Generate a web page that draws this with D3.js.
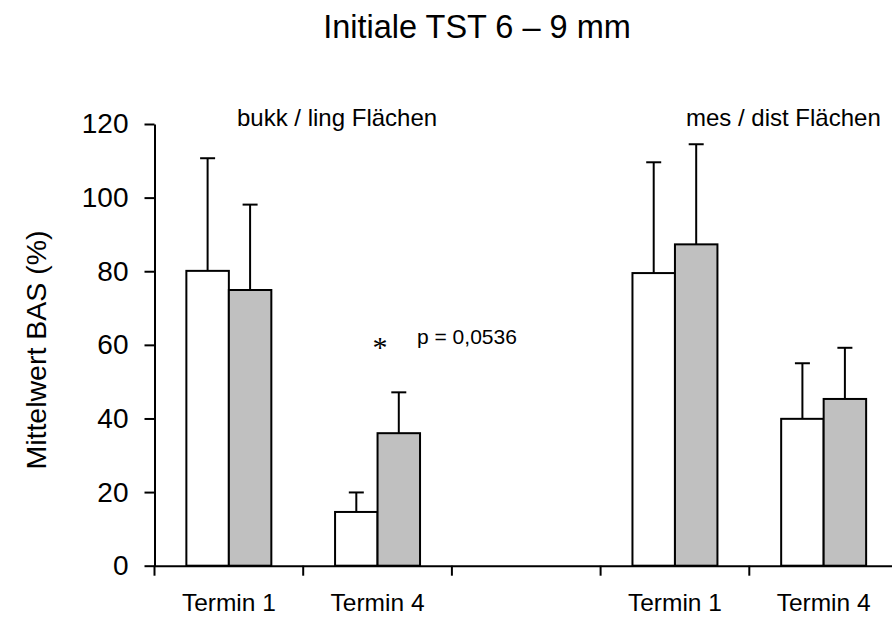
<!DOCTYPE html>
<html>
<head>
<meta charset="utf-8">
<script src="https://cdn.jsdelivr.net/npm/d3@7"></script>
<style>
    body { margin: 0; background: #fff; }
    text { font-family: "Liberation Sans", Arial, sans-serif; fill: #000; }
</style>
</head>
<body>
<div id="chart"></div>
<script>
// chart data
const slots = ["bukkT1", "bukkT4", "gap", "mesT1", "mesT4"];
const slotLabels = ["Termin 1", "Termin 4", "", "Termin 1", "Termin 4"];
const series = ["weiss", "grau"];
const whiteMeans = [80.1, 14.6, null, 79.5, 39.9];
const whiteErr = [30.6, 5.3, null, 30.1, 15.1];
const grayMeans = [74.9, 36.0, null, 87.3, 45.3];
const grayErr = [23.2, 11.1, null, 27.2, 13.9];
const yTicks = [0, 20, 40, 60, 80, 100, 120];

const width = 892, height = 619;
const svg = d3.select('#chart')
    .append('svg')
    .attr('width', width)
    .attr('height', height);

const x = d3.scaleBand()
    .domain(slots)
    .range([154.5, 898])
    .padding(0);

const xInner = d3.scaleBand()
    .domain(series)
    .range([0, x.bandwidth()])
    .paddingInner(0)
    .paddingOuter(0.75);

const y = d3.scaleLinear()
    .domain([0, 120])
    .range([565.7, 124]);

const fills = { weiss: "#ffffff", grau: "#c0c0c0" };

// rows for bars
const rows = [];
slots.forEach((s, i) => {
    if (whiteMeans[i] != null) rows.push({ slot: s, ser: "weiss", v: whiteMeans[i], e: whiteErr[i] });
    if (grayMeans[i] != null) rows.push({ slot: s, ser: "grau", v: grayMeans[i], e: grayErr[i] });
});

// error bars (behind bars)
const capW = 15;
const err = svg.append("g").attr("class", "errors")
    .attr("stroke", "#000").attr("stroke-width", 2);
rows.forEach(d => {
    const cx = x(d.slot) + xInner(d.ser) + xInner.bandwidth() / 2;
    err.append("line")
        .attr("x1", cx).attr("x2", cx)
        .attr("y1", y(d.v)).attr("y2", y(d.v + d.e));
    err.append("line")
        .attr("x1", cx - capW / 2).attr("x2", cx + capW / 2)
        .attr("y1", y(d.v + d.e)).attr("y2", y(d.v + d.e));
});

svg.append("g").attr("class", "bars")
    .selectAll("rect")
    .data(rows)
    .enter()
    .append("rect")
    .attr("x", d => x(d.slot) + xInner(d.ser))
    .attr("y", d => y(d.v))
    .attr("width", xInner.bandwidth())
    .attr("height", d => y(0) - y(d.v))
    .attr("fill", d => fills[d.ser])
    .attr("stroke", "#000")
    .attr("stroke-width", 2);

// y axis
const yAxis = svg.append("g")
    .attr("transform", `translate(${x.range()[0]},0)`)
    .call(d3.axisLeft(y).tickValues(yTicks).tickSize(10).tickSizeOuter(0).tickPadding(16));
yAxis.selectAll("path, line").attr("stroke", "#000").attr("stroke-width", 2);
yAxis.selectAll("text").style("font-size", "28px").style("font-family", '"Liberation Sans", Arial, sans-serif');

// x axis: labels centred in slots, ticks between slots
const xAxis = svg.append("g")
    .attr("transform", `translate(0,${y(0)})`)
    .call(d3.axisBottom(x).tickFormat((d, i) => slotLabels[i]).tickSize(0).tickSizeOuter(0).tickPadding(28));
xAxis.select(".domain").attr("stroke", "#000").attr("stroke-width", 2);
xAxis.selectAll("text").style("font-size", "24.5px").style("font-family", '"Liberation Sans", Arial, sans-serif');

xAxis.selectAll(".sep")
    .data(slots)
    .enter()
    .append("line")
    .attr("class", "sep")
    .attr("x1", d => x(d)).attr("x2", d => x(d))
    .attr("y1", 0).attr("y2", 10)
    .attr("stroke", "#000").attr("stroke-width", 2);

// title and labels
svg.append("text")
    .attr("x", 477).attr("y", 38)
    .attr("text-anchor", "middle")
    .style("font-size", "32.5px")
    .text("Initiale TST 6 – 9 mm");

svg.append("text")
    .attr("transform", "translate(46,350) rotate(-90)")
    .attr("text-anchor", "middle")
    .style("font-size", "28.5px")
    .text("Mittelwert BAS (%)");

svg.append("text")
    .attr("x", 237).attr("y", 126)
    .style("font-size", "24px")
    .text("bukk / ling Flächen");

svg.append("text")
    .attr("x", 686).attr("y", 126)
    .style("font-size", "24px")
    .text("mes / dist Flächen");

svg.append("text")
    .attr("x", 380).attr("y", 357)
    .attr("text-anchor", "middle")
    .style("font-size", "30px")
    .style("font-family", '"Liberation Serif", "Times New Roman", serif')
    .text("*");

svg.append("text")
    .attr("x", 417).attr("y", 344)
    .style("font-size", "21px")
    .text("p = 0,0536");
</script>
</body>
</html>
